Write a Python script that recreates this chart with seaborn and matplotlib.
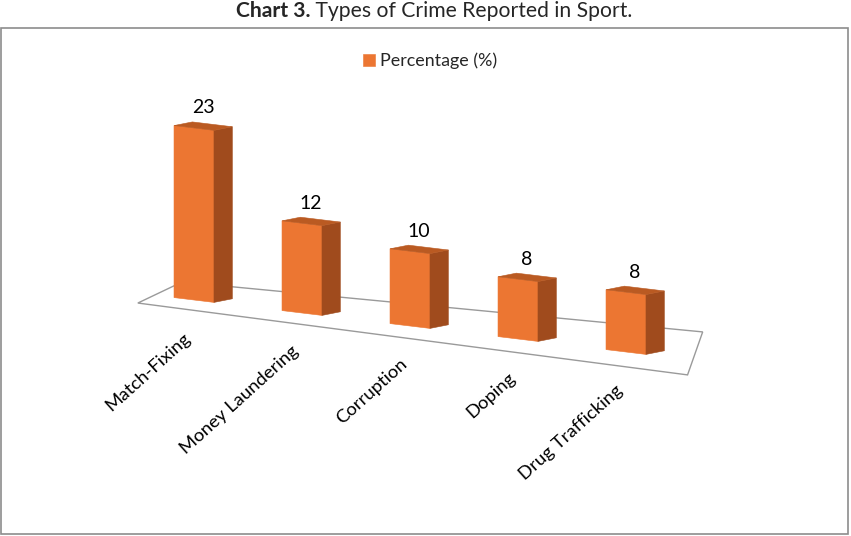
import pandas as pd
import matplotlib
matplotlib.use('Agg')
import matplotlib.pyplot as plt
import seaborn as sns
from matplotlib.patches import Polygon, Rectangle
from matplotlib.transforms import Affine2D

# data
crimes = ['Match-Fixing', 'Money Laundering', 'Corruption', 'Doping', 'Drug Trafficking']
percentages = [23, 12, 10, 8, 8]
series_name = 'Percentage (%)'

FRONT = '#EC7632'
SIDE = '#A04B1D'
TOP = '#BA5A22'

W, H, DPI = 851, 536, 100

# pixel layout of the fake 3D plot
x0_px, step_px = 194, 108      # centre of first bar, spacing between bars
base_px, unit_px = 300, 7.48   # floor under first bar, pixels per percent
drop_px = 13                   # floor drops this much per category
depth_dx, depth_dy = 0.17, 0.78   # depth of the boxes (category units, percent units)


def draw_boxes(ax, bars, skew):
    for p in bars:
        x, w, h = p.get_x(), p.get_width(), p.get_height()
        p.set_transform(skew)
        p.set_edgecolor(FRONT)
        p.set_linewidth(0.4)
        side = Polygon([(x + w, 0), (x + w, h), (x + w + depth_dx, h + depth_dy), (x + w + depth_dx, depth_dy)],
                       closed=True, facecolor=SIDE, edgecolor=SIDE, lw=0.4, transform=skew, zorder=3)
        top = Polygon([(x, h), (x + w, h), (x + w + depth_dx, h + depth_dy), (x + depth_dx, h + depth_dy)],
                      closed=True, facecolor=TOP, edgecolor=TOP, lw=0.4, transform=skew, zorder=3)
        ax.add_patch(side)
        ax.add_patch(top)
        ax.text(x + w / 2 + depth_dx / 2, h + depth_dy + 0.9, f'{h:g}', ha='center', va='bottom',
                fontsize=14, color='black', transform=skew)


def main():
    sns.set_theme(style='white')
    plt.rcParams['font.family'] = ['Lato', 'DejaVu Sans']

    df = pd.DataFrame({'crime': crimes, 'pct': percentages})

    fig = plt.figure(figsize=(W / DPI, H / DPI), dpi=DPI)
    ax = fig.add_axes([0, 0, 1, 1])
    sns.barplot(data=df, x='crime', y='pct', color=FRONT, saturation=1, width=0.37,
                ax=ax, label=series_name, zorder=3)
    bars = list(ax.containers[0])
    ax.set_xlim(-x0_px / step_px, (W - x0_px) / step_px)
    ax.set_ylim(-(H - base_px) / unit_px, base_px / unit_px)
    ax.axis('off')

    skew = Affine2D.from_values(1, -drop_px / unit_px, 0, 1, 0, 0) + ax.transData

    # floor of the 3D plot
    floor = Polygon([(-0.52, -1.31), (4.57, -2.07), (4.71, 3.92), (-0.11, 2.22)], closed=True,
                    facecolor='white', edgecolor='#9a9a9a', lw=1.0, transform=skew, zorder=1)
    ax.add_patch(floor)

    draw_boxes(ax, bars, skew)

    for i, name in enumerate(crimes):
        ax.text(i - 0.05, -4.9, name, rotation=42, rotation_mode='anchor', ha='right', va='center',
                fontsize=13.3, color='black', transform=skew)

    ax.legend(loc='center', bbox_to_anchor=(430 / W, 1 - 61 / H), bbox_transform=fig.transFigure,
              frameon=False, fontsize=12.9, handlelength=0.65, handleheight=0.65, handletextpad=0.3)

    # chart border
    fig.add_artist(Rectangle((1 / W, (H - 534) / H), 847 / W, (534 - 28) / H, transform=fig.transFigure,
                             fill=False, edgecolor='#8c8c8c', lw=1.2))

    # title, bold part + normal part, centred together
    t1 = fig.text(0, 1 - 17 / H, 'Chart 3.', fontweight='bold', fontsize=15.2, va='baseline')
    t2 = fig.text(0, 1 - 17 / H, ' Types of Crime Reported in Sport.', fontsize=15.2, va='baseline')
    r = fig.canvas.get_renderer()
    w1 = t1.get_window_extent(r).width
    w2 = t2.get_window_extent(r).width
    left = 434 - (w1 + w2) / 2
    t1.set_x(left / W)
    t2.set_x((left + w1) / W)

    fig.savefig('out.png', dpi=DPI)


if __name__ == "__main__":
    main()
